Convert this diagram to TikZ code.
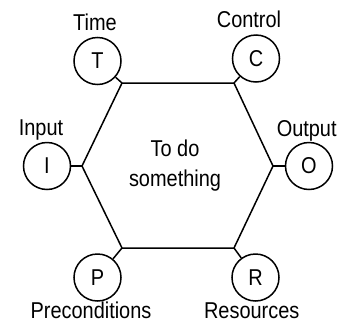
\documentclass[tikz,border=0pt]{standalone}
\usepackage{fontspec}
\setmainfont{Liberation Sans}[FakeStretch=0.87]
\begin{document}
\begin{tikzpicture}[x=1bp, y=-1bp, line width=1.5bp,
    every node/.style={font=\fontsize{23}{30}\selectfont},
    port/.style={circle, draw, minimum size=47bp, inner sep=0pt},
    tag/.style={anchor=base, inner sep=0pt}]
  \useasboundingbox (0,0) rectangle (345,322);

  % corners of the hexagon
  \coordinate (tl) at (122,83);
  \coordinate (tr) at (234,83);
  \coordinate (r) at (273,166);
  \coordinate (br) at (234,248);
  \coordinate (bl) at (122,248);
  \coordinate (l) at (82,166);
  \draw (tl) -- (tr) -- (r) -- (br) -- (bl) -- (l) -- cycle;

  \node[align=center, inner sep=0pt] (task) at (175,166) {To do\\something};

  % ports round the hexagon
  \node[port] (T) at (97.5,61) {T};
  \node[port] (C) at (256,58.5) {C};
  \node[port] (I) at (47,166) {I};
  \node[port] (O) at (309,166) {O};
  \node[port] (P) at (97.5,277.5) {P};
  \node[port] (R) at (255.5,277.5) {R};

  \draw (T) -- (tl);
  \draw (C) -- (tr);
  \draw (I) -- (l);
  \draw (O) -- (r);
  \draw (P) -- (bl);
  \draw (R) -- (br);

  \node[tag] (time) at (95,30) {Time};
  \node[tag] (control) at (249,27) {Control};
  \node[tag] (input) at (41,135) {Input};
  \node[tag] (output) at (306.7,136.5) {Output};
  \node[tag] (precond) at (91,318) {Preconditions};
  \node[tag] (resources) at (251.7,318) {Resources};
\end{tikzpicture}
\end{document}
